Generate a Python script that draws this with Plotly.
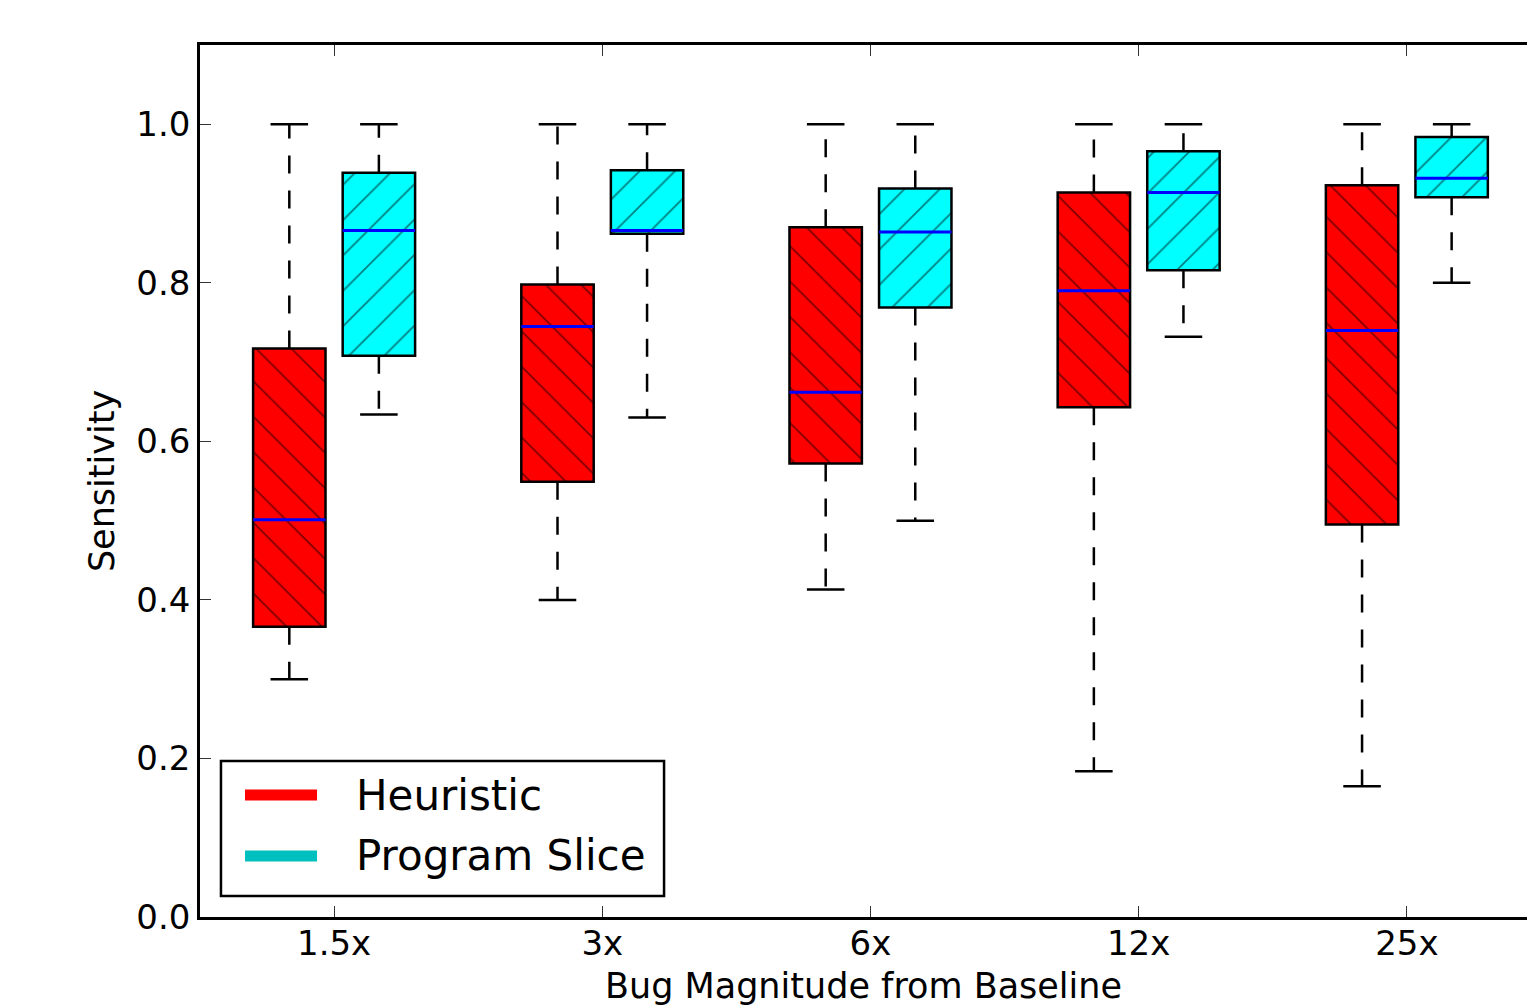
import plotly.graph_objects as go

# ---------------- data ----------------
categories = ["1.5x", "3x", "6x", "12x", "25x"]

heur_low = [0.300, 0.400, 0.413, 0.184, 0.165]
heur_q1 = [0.366, 0.549, 0.572, 0.643, 0.495]
heur_med = [0.501, 0.745, 0.662, 0.790, 0.740]
heur_q3 = [0.717, 0.798, 0.870, 0.914, 0.923]
heur_high = [1.000, 1.000, 1.000, 1.000, 1.000]

ps_low = [0.634, 0.630, 0.500, 0.732, 0.800]
ps_q1 = [0.708, 0.862, 0.769, 0.816, 0.908]
ps_med = [0.866, 0.866, 0.864, 0.914, 0.932]
ps_q3 = [0.939, 0.942, 0.919, 0.966, 0.984]
ps_high = [1.000, 1.000, 1.000, 1.000, 1.000]

y_ticks = [0.0, 0.2, 0.4, 0.6, 0.8, 1.0]
legend_names = ["Heuristic", "Program Slice"]

# ---------------- style ----------------
FONT = "DejaVu Sans"
OFFSET = 0.167
BOX_W = 0.27
CAP_HALF = 0.07
centers = list(range(1, len(categories) + 1))

series = [
    dict(name=legend_names[0], low=heur_low, q1=heur_q1, med=heur_med, q3=heur_q3, high=heur_high,
         shift=-OFFSET, fill="#ff0000", legend="#ff0000", hatch="\\"),
    dict(name=legend_names[1], low=ps_low, q1=ps_q1, med=ps_med, q3=ps_q3, high=ps_high,
         shift=OFFSET, fill="#00ffff", legend="#00bfbf", hatch="/"),
]

fig = go.Figure()

for s in series:
    xs = [c + s["shift"] for c in centers]
    # dashed whiskers
    wx, wy = [], []
    for x, lo, q1, q3, hi in zip(xs, s["low"], s["q1"], s["q3"], s["high"]):
        wx += [x, x, None, x, x, None]
        wy += [q3, hi, None, q1, lo, None]
    fig.add_trace(go.Scatter(x=wx, y=wy, mode="lines", showlegend=False, hoverinfo="skip",
                             line=dict(color="black", width=2.5, dash="18px,17px")))
    # caps
    cx, cy = [], []
    for x, lo, hi in zip(xs, s["low"], s["high"]):
        cx += [x - CAP_HALF, x + CAP_HALF, None, x - CAP_HALF, x + CAP_HALF, None]
        cy += [hi, hi, None, lo, lo, None]
    fig.add_trace(go.Scatter(x=cx, y=cy, mode="lines", showlegend=False, hoverinfo="skip",
                             line=dict(color="black", width=2.5)))

for s in series:
    xs = [c + s["shift"] for c in centers]
    # hatched boxes
    fig.add_trace(go.Bar(
        x=xs, base=s["q1"], y=[q3 - q1 for q1, q3 in zip(s["q1"], s["q3"])],
        width=BOX_W, showlegend=False, name=s["name"],
        marker=dict(color=s["fill"], line=dict(color="black", width=2.5),
                    pattern=dict(shape=s["hatch"], fgcolor="black", bgcolor=s["fill"],
                                 size=25, solidity=0.07, fillmode="overlay")),
    ))

for s in series:
    xs = [c + s["shift"] for c in centers]
    mx, my = [], []
    for x, m in zip(xs, s["med"]):
        mx += [x - BOX_W / 2, x + BOX_W / 2, None]
        my += [m, m, None]
    fig.add_trace(go.Scatter(x=mx, y=my, mode="lines", showlegend=False, hoverinfo="skip",
                             line=dict(color="#0000ff", width=3)))

# ---------------- legend (drawn in paper space, matplotlib style) ----------------
LEG_BOX = dict(x0=0.0158, x1=0.3497, y0=0.0241, y1=0.1789)
LEG_LINE_X = (0.0339, 0.0882)
LEG_TEXT_X = 0.1161
LEG_ROWS_Y = [0.1399, 0.0700]

fig.add_shape(type="rect", xref="paper", yref="paper", **LEG_BOX,
              line=dict(color="black", width=2.5), fillcolor="white", layer="above")
for s, ry in zip(series, LEG_ROWS_Y):
    fig.add_shape(type="line", xref="paper", yref="paper",
                  x0=LEG_LINE_X[0], x1=LEG_LINE_X[1], y0=ry, y1=ry,
                  line=dict(color=s["legend"], width=11), layer="above")
    fig.add_annotation(xref="paper", yref="paper", x=LEG_TEXT_X, y=ry,
                       xanchor="left", yanchor="middle", showarrow=False, text=s["name"],
                       font=dict(family=FONT, size=42, color="black"))

fig.update_layout(
    width=1527, height=1006, autosize=False,
    margin=dict(l=200, r=0, t=45, b=89, pad=0),
    plot_bgcolor="white", paper_bgcolor="white",
    font=dict(family=FONT, color="black", size=34),
    barmode="overlay",
    showlegend=False,
)

fig.update_xaxes(
    range=[0.5, 5.448], tickmode="array", tickvals=centers, ticktext=categories,
    ticks="inside", ticklen=11, tickwidth=1.2, tickcolor="#333333",
    showline=True, linecolor="black", linewidth=2.5, mirror="ticks",
    showgrid=False, zeroline=False, automargin=False, ticklabelstandoff=-6,
    tickfont=dict(family=FONT, size=34, color="black"),
    title=dict(text="Bug Magnitude from Baseline", font=dict(family=FONT, size=35, color="black"),
               standoff=28),
)
fig.update_yaxes(
    range=[0, 1.1], tickmode="array", tickvals=y_ticks, tickformat=".1f",
    ticks="inside", ticklen=11, tickwidth=1.2, tickcolor="#333333",
    showline=True, linecolor="black", linewidth=2.5, mirror=False,
    showgrid=False, zeroline=False, automargin=False,
    tickfont=dict(family=FONT, size=34, color="black"),
    title=dict(text="Sensitivity", font=dict(family=FONT, size=35, color="black"), standoff=12),
)

fig.write_html(
    "out.html",
    config={"displayModeBar": False},
    post_script="document.body.style.margin='0px';document.body.style.overflow='hidden';",
)
